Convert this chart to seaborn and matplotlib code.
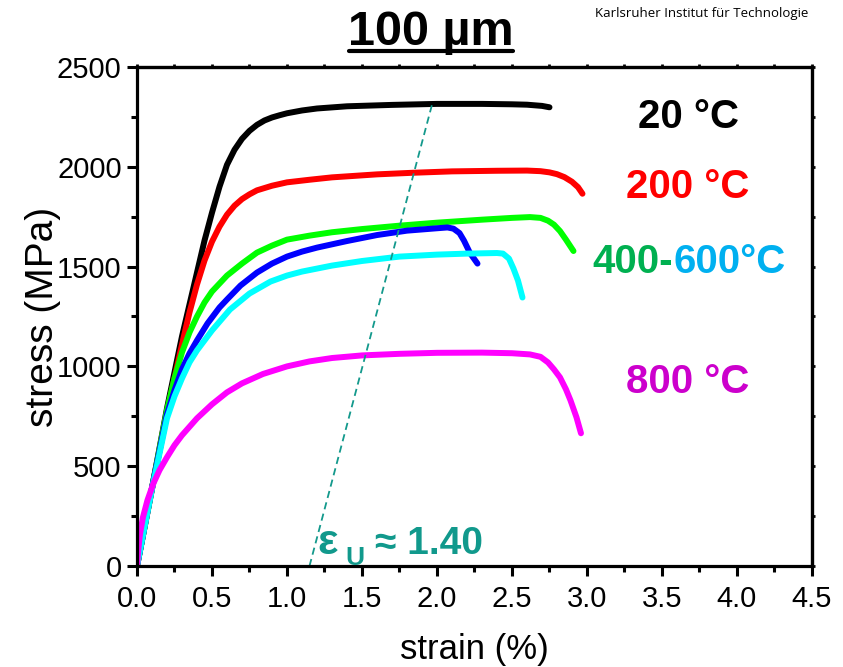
import numpy as np
import pandas as pd
import matplotlib
matplotlib.use("Agg")
import matplotlib.pyplot as plt
import seaborn as sns
from matplotlib.lines import Line2D
from matplotlib.ticker import MultipleLocator

# ---------------- data ----------------
strain_20 = [0, 0.1, 0.2, 0.3, 0.4, 0.45, 0.5, 0.55, 0.6, 0.65, 0.7, 0.75, 0.8, 0.85, 0.9, 0.95,
             1.0, 1.1, 1.2, 1.4, 1.7, 2.0, 2.3, 2.5, 2.6, 2.7, 2.75]
stress_20 = [0, 390, 790, 1150, 1470, 1630, 1770, 1900, 2010, 2085, 2140, 2180, 2210, 2232, 2247, 2258,
             2268, 2282, 2292, 2303, 2310, 2315, 2315, 2313, 2311, 2305, 2298]

strain_200 = [0, 0.1, 0.2, 0.3, 0.35, 0.4, 0.45, 0.5, 0.55, 0.6, 0.65, 0.7, 0.75, 0.8, 0.9, 1.0, 1.15,
              1.3, 1.6, 1.84, 2.1, 2.4, 2.6, 2.69, 2.75, 2.8, 2.85, 2.9, 2.94, 2.97]
stress_200 = [0, 385, 770, 1110, 1270, 1410, 1530, 1625, 1700, 1760, 1805, 1838, 1862, 1882, 1905, 1922, 1935,
              1947, 1962, 1970, 1977, 1980, 1981, 1978, 1972, 1963, 1948, 1925, 1898, 1865]

strain_400 = [0, 0.1, 0.2, 0.25, 0.3, 0.35, 0.4, 0.45, 0.5, 0.6, 0.7, 0.8, 0.9, 1.0, 1.15, 1.3, 1.5,
              1.75, 2.0, 2.3, 2.5, 2.62, 2.69, 2.74, 2.78, 2.82, 2.86, 2.91]
stress_400 = [0, 390, 780, 940, 1070, 1170, 1250, 1320, 1375, 1455, 1515, 1570, 1605, 1635, 1655, 1672, 1688,
              1705, 1720, 1735, 1744, 1748, 1744, 1730, 1710, 1678, 1635, 1578]

strain_500 = [0, 0.1, 0.2, 0.25, 0.3, 0.35, 0.4, 0.47, 0.55, 0.6, 0.69, 0.8, 0.9, 1.0, 1.1, 1.2, 1.4,
              1.6, 1.8, 2.0, 2.07, 2.11, 2.15, 2.18, 2.22, 2.27]
stress_500 = [0, 390, 760, 880, 985, 1065, 1130, 1215, 1295, 1335, 1405, 1470, 1515, 1550, 1575, 1595, 1628,
              1658, 1680, 1692, 1696, 1690, 1668, 1630, 1568, 1515]

strain_600 = [0, 0.1, 0.2, 0.25, 0.3, 0.35, 0.4, 0.5, 0.62, 0.75, 0.89, 1.0, 1.1, 1.3, 1.5, 1.75, 2.0,
              2.2, 2.4, 2.44, 2.48, 2.51, 2.54, 2.57]
stress_600 = [0, 385, 740, 850, 940, 1020, 1080, 1180, 1285, 1365, 1425, 1455, 1475, 1505, 1528, 1550, 1560,
              1565, 1568, 1565, 1540, 1490, 1430, 1345]

strain_800 = [0, 0.01, 0.02, 0.04, 0.07, 0.11, 0.15, 0.2, 0.25, 0.3, 0.4, 0.5, 0.6, 0.7, 0.84, 1.0, 1.15,
              1.3, 1.5, 1.75, 2.0, 2.3, 2.5, 2.62, 2.69, 2.74, 2.78, 2.82, 2.86, 2.89, 2.93, 2.96]
stress_800 = [0, 90, 160, 245, 330, 415, 480, 545, 605, 655, 740, 810, 870, 915, 962, 1000, 1025,
              1042, 1055, 1063, 1068, 1069, 1066, 1060, 1048, 1020, 985, 945, 885, 830, 745, 665]

series_names = ["20", "200", "400", "500", "600", "800"]
line_colors = ["#000000", "#ff0000", "#00ff00", "#0000ff", "#00ffff", "#ff00ff"]

# uniform-strain guide line and its label
guide_strain = [1.15, 1.97]
guide_stress = [0, 2320]
eps_u_value = "1.40"

x_ticks = [0.0, 0.5, 1.0, 1.5, 2.0, 2.5, 3.0, 3.5, 4.0, 4.5]
y_ticks = [0, 500, 1000, 1500, 2000, 2500]

# ---------------- build table ----------------
all_strain = [strain_20, strain_200, strain_400, strain_500, strain_600, strain_800]
all_stress = [stress_20, stress_200, stress_400, stress_500, stress_600, stress_800]
frames = []
for name, xs, ys in zip(series_names, all_strain, all_stress):
    frames.append(pd.DataFrame({"strain": xs, "stress": ys, "T": name}))
df = pd.concat(frames, ignore_index=True)

# ---------------- figure ----------------
sns.set_theme(style="white")
plt.rcParams["font.family"] = ["Liberation Sans", "DejaVu Sans"]
plt.rcParams["text.color"] = "black"
plt.rcParams["axes.labelcolor"] = "black"
plt.rcParams["xtick.color"] = "black"
plt.rcParams["ytick.color"] = "black"

fig = plt.figure(figsize=(8.43, 6.67), dpi=100)
ax = fig.add_axes([0.1625, 0.1514, 0.8007, 0.7482])

sns.lineplot(data=df, x="strain", y="stress", hue="T", palette=dict(zip(series_names, line_colors)),
             sort=False, estimator=None, linewidth=4.3, legend=False, ax=ax,
             solid_capstyle="round", solid_joinstyle="round")

sns.lineplot(x=guide_strain, y=guide_stress, color="#13998c", linewidth=1.3,
             ax=ax, sort=False, estimator=None)
ax.lines[-1].set_linestyle((0, (4, 2.5)))

ax.set_xlim(0, 4.5)
ax.set_ylim(0, 2500)
ax.set_xticks(x_ticks)
ax.set_xticklabels([f"{v:.1f}" for v in x_ticks])
ax.set_yticks(y_ticks)
ax.set_yticklabels([str(v) for v in y_ticks])
ax.xaxis.set_minor_locator(MultipleLocator(0.25))
ax.yaxis.set_minor_locator(MultipleLocator(250))
ax.tick_params(which="major", direction="out", length=7, width=2.2, labelsize=21, pad=4,
               bottom=True, left=True, colors="black")
ax.tick_params(which="minor", direction="out", length=4, width=2.2, bottom=True, left=True)
ax.tick_params(axis="x", which="major", pad=7)
for s in ax.spines.values():
    s.set_linewidth(2.3)
    s.set_color("black")

# small ticks on top and right
sec = ax.secondary_xaxis("top")
sec.set_xticks(x_ticks)
sec.xaxis.set_minor_locator(MultipleLocator(0.25))
sec.tick_params(which="both", direction="out", length=2.5, width=2, labeltop=False)
sec.spines["top"].set_linewidth(2.3)
secy = ax.secondary_yaxis("right")
secy.set_yticks(y_ticks)
secy.yaxis.set_minor_locator(MultipleLocator(250))
secy.tick_params(which="both", direction="out", length=2.5, width=2, labelright=False)
secy.spines["right"].set_linewidth(2.3)

ax.set_xlabel("strain (%)", fontsize=25, labelpad=14, color="black")
ax.set_ylabel("stress (MPa)", fontsize=28, labelpad=-3, color="black")

# temperature labels
bold = dict(fontweight="bold", fontsize=29)
ax.text(3.68, 2195, "20 °C", color="black", ha="center", va="baseline", **bold)
ax.text(3.67, 1845, "200 °C", color="#ff0000", ha="center", va="baseline", **bold)
ax.text(3.575, 1470, "400-", color="#00b050", ha="right", va="baseline", **bold)
ax.text(3.575, 1470, "600°C", color="#00b0f0", ha="left", va="baseline", **bold)
ax.text(3.67, 865, "800 °C", color="#cc00cc", ha="center", va="baseline", **bold)

# epsilon_U annotation
teal = "#11998c"
ax.text(1.205, 60, "ε", color=teal, fontsize=31, fontweight="bold", ha="left", va="baseline")
ax.text(1.39, 5, "U", color=teal, fontsize=19, fontweight="bold", ha="left", va="baseline")
ax.text(1.59, 60, "≈ " + eps_u_value, color=teal, fontsize=28, fontweight="bold", ha="left", va="baseline")

# title with underline
fig.text(0.511, 0.9325, "100 µm", fontsize=35, fontweight="bold", ha="center", va="baseline", color="black")
fig.add_artist(Line2D([349 / 843, 513 / 843], [1 - 51 / 667, 1 - 51 / 667], color="black", linewidth=3))

fig.text(0.832, 1 - 17 / 667, "Karlsruher Institut für Technologie", fontsize=9.5, color="black",
         ha="center", va="baseline", family=["Open Sans", "DejaVu Sans"])

fig.savefig("out.png", dpi=100)
